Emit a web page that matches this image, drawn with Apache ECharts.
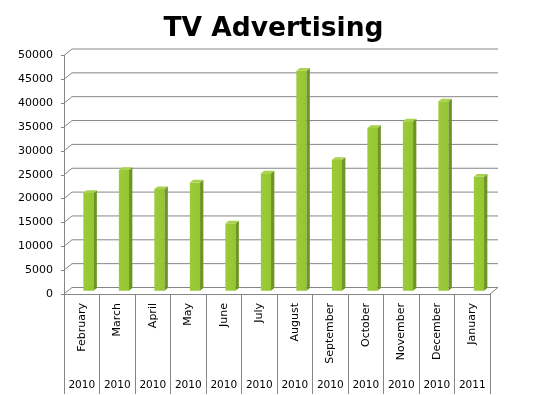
<!DOCTYPE html>
<html>
<head>
<meta charset="utf-8">
<script src="https://cdn.jsdelivr.net/npm/echarts@6/dist/echarts.min.js"></script>
<style>html,body{margin:0;padding:0;background:#fff;}#c{width:547px;height:396px;}</style>
</head>
<body>
<div id="c"></div>
<script>
const months = ['February','March','April','May','June','July','August','September','October','November','December','January'];
const years = ['2010','2010','2010','2010','2010','2010','2010','2010','2010','2010','2010','2011'];
const values = [20500, 25300, 21300, 22700, 14100, 24600, 46100, 27400, 34100, 35500, 39700, 23900];
const yTicks = [0, 5000, 10000, 15000, 20000, 25000, 30000, 35000, 40000, 45000, 50000];

const FONT = 'DejaVu Sans';
const GREY = '#868686';
const DX = 8, DY = -6.5;          // wall depth offset
const BL = 1.6, BW = 10.2;        // bar front face offset/width
const BDY = -3.3;                 // bar plane vertical offset
const SD = 3.3, SDY = -2.7;       // bar side depth

const chart = echarts.init(document.getElementById('c'), null, {renderer: 'canvas'});
chart.setOption({
  animation: false,
  backgroundColor: '#fff',
  title: {
    text: 'TV Advertising', left: 'center', top: 11,
    textStyle: {fontFamily: FONT, fontSize: 26.5, fontWeight: 'bold', color: '#000'}
  },
  grid: {left: 64, right: 57, top: 55.5, bottom: 102},
  xAxis: [
    {
      type: 'category', data: months, boundaryGap: true,
      axisLine: {show: true, lineStyle: {color: GREY}},
      axisTick: {show: true, length: 100, interval: 0, lineStyle: {color: GREY}},
      axisLabel: {rotate: 90, margin: 9, interval: 0, color: '#000', fontSize: 11, fontFamily: FONT}
    },
    {
      type: 'category', data: years, position: 'bottom', offset: 78,
      axisLine: {show: false}, axisTick: {show: false},
      axisLabel: {interval: 0, margin: 8, color: '#000', fontSize: 10.5, fontFamily: FONT}
    }
  ],
  yAxis: {
    type: 'value', min: 0, max: 50000, interval: 5000,
    axisLine: {show: true, lineStyle: {color: GREY}},
    axisTick: {show: true, length: 3, lineStyle: {color: GREY}},
    splitLine: {show: false},
    axisLabel: {margin: 11, color: '#000', fontSize: 11, fontFamily: FONT, formatter: v => String(v)}
  },
  series: [
    {
      type: 'custom', xAxisIndex: 0, yAxisIndex: 0, silent: true, z: 1,
      data: yTicks.map(v => [0, v]),
      renderItem: function (params, api) {
        const cs = params.coordSys;
        const v = api.value(1);
        const y = api.coord([0, v])[1];
        const x0 = cs.x, x1 = cs.x + cs.width;
        const pts = [[x0, y], [x0 + DX, y + DY], [x1 + DX, y + DY]];
        if (v === 0) pts.push([x1, y]);
        return {type: 'polyline', shape: {points: pts}, style: {stroke: GREY, lineWidth: 1, fill: null}};
      }
    },
    {
      type: 'custom', xAxisIndex: 0, yAxisIndex: 0, silent: true, z: 3,
      data: values.map((v, i) => [i, v]),
      renderItem: function (params, api) {
        const i = api.value(0), v = api.value(1);
        const top = api.coord([i, v]);
        const base = api.coord([i, 0]);
        const l = top[0] + BL, r = l + BW;
        const yt = top[1] + BDY, yb = base[1] + BDY;
        return {
          type: 'group',
          children: [
            {type: 'rect', shape: {x: l, y: yt, width: BW, height: yb - yt},
             style: {fill: new echarts.graphic.LinearGradient(0, 0, 1, 0, [{offset: 0, color: '#9DCB3A'}, {offset: 1, color: '#93C632'}])}},
            {type: 'polygon', shape: {points: [[r, yt], [r + SD, yt + SDY], [r + SD, yb + SDY], [r, yb]]},
             style: {fill: '#6E9422'}},
            {type: 'polygon', shape: {points: [[l, yt], [l + SD, yt + SDY], [r + SD, yt + SDY], [r, yt]]},
             style: {fill: '#A9D24E'}}
          ]
        };
      }
    }
  ]
});
</script>
</body>
</html>
